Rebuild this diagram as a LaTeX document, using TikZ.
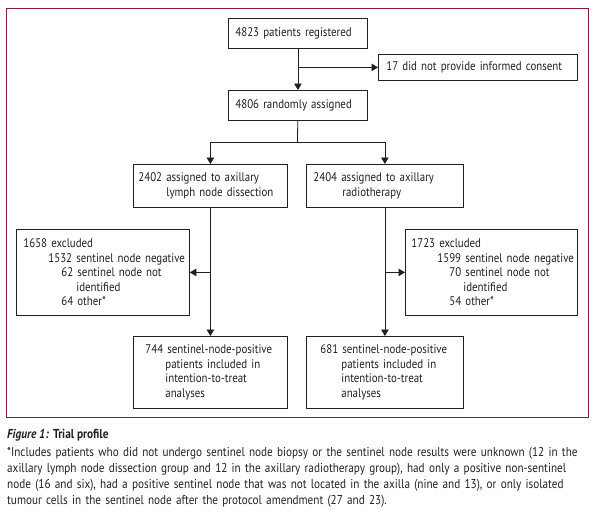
\documentclass[tikz,border=0pt]{standalone}
\usepackage{fontspec}
\setmainfont[FakeStretch=0.87]{PT Sans}
\usetikzlibrary{arrows.meta}
\definecolor{framecol}{RGB}{139,26,74}
\definecolor{ink}{RGB}{35,31,32}
\newcommand{\bxl}[2]{\hspace*{#1}\mbox{#2}}
\tikzset{
  box/.style={draw=ink, line width=0.8pt, rectangle, anchor=north west, align=left,
    inner xsep=0pt, inner ysep=0pt, text=ink, font=\fontsize{12.5}{14.5}\selectfont},
  bsize/.style n args={2}{minimum width=#1, minimum height=#2, text width=#1},
  arr/.style={draw=ink, line width=0.8pt, -{Triangle[length=6.5pt,width=7.5pt]}},
  ln/.style={draw=ink, line width=0.8pt}
}
\begin{document}
\begin{tikzpicture}[x=1pt,y=-1pt]
\useasboundingbox (0,0) rectangle (599,523);
\draw[framecol, line width=1pt] (6,8) rectangle (588,417);

\node[box, bsize={139pt}{30pt}] (A) at (228,18) {\bxl{7pt}{4823 patients registered}};
\node[box, bsize={199pt}{26pt}] (consent) at (378,54) {\bxl{8pt}{17 did not provide informed consent}};
\node[box, bsize={139pt}{30pt}] (B) at (228,90) {\bxl{7pt}{4806 randomly assigned}};
\node[box, bsize={154pt}{43pt}] (C) at (133,164) {\bxl{5pt}{2402 assigned to axillary}\\\bxl{33pt}{lymph node dissection}};
\node[box, bsize={157pt}{43pt}] (D) at (306,164) {\bxl{7pt}{2404 assigned to axillary}\\\bxl{36pt}{radiotherapy}};
\node[box, bsize={173pt}{86pt}] (exL) at (16,229) {\bxl{7pt}{1658 excluded}\\\bxl{32pt}{1532 sentinel node negative}\\\bxl{45pt}{62 sentinel node not}\\\bxl{60pt}{identified}\\\bxl{45pt}{64 other*}};
\node[box, bsize={172pt}{86pt}] (exR) at (405,229) {\bxl{6pt}{1723 excluded}\\\bxl{32pt}{1599 sentinel node negative}\\\bxl{44pt}{70 sentinel node not}\\\bxl{58pt}{identified}\\\bxl{44pt}{54 other*}};
\node[box, bsize={154pt}{72pt}] (BL) at (133,336) {\bxl{12pt}{744 sentinel-node-positive}\\\bxl{32pt}{patients included in}\\\bxl{32pt}{intention-to-treat}\\\bxl{32pt}{analyses}};
\node[box, bsize={157pt}{72pt}] (BR) at (306,336) {\bxl{14pt}{681 sentinel-node-positive}\\\bxl{35pt}{patients included in}\\\bxl{35pt}{intention-to-treat}\\\bxl{35pt}{analyses}};

\draw[arr] (A) -- (B);
\coordinate (brk) at (A.south |- consent.west);
\draw[arr] (brk) -- (consent.west);
\coordinate (split) at (297.5,142);
\draw[ln] (B) -- (split);
\draw[arr] (split) -| (C.north);
\draw[arr] (split) -| (D.north);
\draw[arr] (C) -- (BL);
\draw[arr] (D) -- (BR);
\draw[arr] (C.south |- exL.east) -- (exL.east);
\draw[arr] (D.south |- exR.west) -- (exR.west);

\node[anchor=base west, inner sep=0pt, text=ink, font=\fontsize{13}{14}\selectfont] (title) at (7,438) {\textbf{\textit{Figure 1:}} \textbf{Trial profile}};
\node[anchor=base west, inner sep=0pt, text=ink, text width=585pt, align=left, font=\fontsize{12.85}{16.3}\selectfont] (note) at (7,456) {\mbox{*Includes patients who did not undergo sentinel node biopsy or the sentinel node results were unknown (12 in the}\\\mbox{axillary lymph node dissection group and 12 in the axillary radiotherapy group), had only a positive non-sentinel}\\\mbox{node (16 and six), had a positive sentinel node that was not located in the axilla (nine and 13), or only isolated}\\\mbox{tumour cells in the sentinel node after the protocol amendment (27 and 23).}};
\end{tikzpicture}
\end{document}
